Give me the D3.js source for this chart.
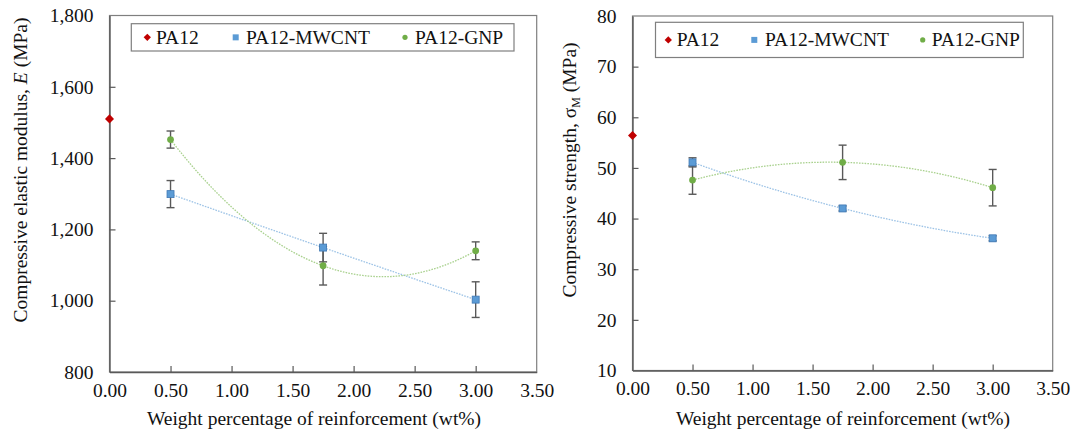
<!DOCTYPE html>
<html>
<head>
<meta charset="utf-8">
<script src="https://cdn.jsdelivr.net/npm/d3@7"></script>
<style>
  html, body { margin: 0; padding: 0; background: #fff; }
  svg { display: block; }
</style>
</head>
<body>
<svg id="chart" width="1071" height="439"></svg>
<script>
// ---- data ----
const seriesNames = ["PA12", "PA12-MWCNT", "PA12-GNP"];
const xTickValues = [0, 0.5, 1, 1.5, 2, 2.5, 3, 3.5];
const modulusTicks = [800, 1000, 1200, 1400, 1600, 1800];
const strengthTicks = [10, 20, 30, 40, 50, 60, 70, 80];

const pa12Loading = [0];
const loadings = [0.5, 1.75, 3.0];

// Compressive elastic modulus, E (MPa)
const modulusPA12 = [1510];
const modulusMWCNT = [1299, 1149, 1003];
const modulusMWCNTErr = [38, 40, 50];
const modulusGNP = [1452, 1098, 1140];
const modulusGNPErr = [24, 54, 25];

// Compressive strength, sigma_M (MPa)
const strengthPA12 = [56.4];
const strengthMWCNT = [51.1, 42.0, 36.1];
const strengthMWCNTErr = [0.9, 0.5, 0.5];
const strengthGNP = [47.6, 51.1, 46.1];
const strengthGNPErr = [2.8, 3.4, 3.6];

// ---- styling ----
const colors = {
  red: "#C00000", blue: "#5B9BD5", blueEdge: "#3F78B4", green: "#70AD47",
  blueTrend: "#9DC3E6", greenTrend: "#A9D18E",
  axis: "#595959", frame: "#7F7F7F", err: "#595959", text: "#111"
};
const FONT = "Liberation Serif";
const FS = 19.5;

const svg = d3.select("#chart").attr("font-family", FONT);

// second-order polynomial through three (x, y) points (Lagrange form)
function quadratic(xs, ys) {
  return x => {
    let s = 0;
    for (let i = 0; i < 3; i++) {
      let t = ys[i];
      for (let j = 0; j < 3; j++) if (j !== i) t *= (x - xs[j]) / (xs[i] - xs[j]);
      s += t;
    }
    return s;
  };
}

function label(sel) {
  return sel.attr("font-family", FONT).attr("font-size", FS).attr("fill", colors.text);
}

function drawPanel(cfg) {
  const { box, yDomain, yTicks, yFormat, pa12, mw, mwErr, gnp, gnpErr, legend } = cfg;
  const x = d3.scaleLinear().domain([0, 3.5]).range([box.left, box.right]);
  const y = d3.scaleLinear().domain(yDomain).range([box.bottom, box.top]);
  const g = svg.append("g");

  // plot frame
  g.append("rect")
    .attr("x", box.left).attr("y", box.top)
    .attr("width", box.right - box.left).attr("height", box.bottom - box.top)
    .attr("fill", "none").attr("stroke", colors.frame).attr("stroke-width", 1.2);

  // axes with inward ticks
  const xAxis = g.append("g").attr("transform", `translate(0,${box.bottom})`)
    .call(d3.axisBottom(x).tickValues(xTickValues).tickFormat(d3.format(".2f"))
      .tickSizeInner(-6).tickSizeOuter(0).tickPadding(14));
  const yAxis = g.append("g").attr("transform", `translate(${box.left},0)`)
    .call(d3.axisLeft(y).tickValues(yTicks).tickFormat(yFormat)
      .tickSizeInner(-6).tickSizeOuter(0).tickPadding(16));
  [xAxis, yAxis].forEach(a => {
    a.attr("font-family", FONT).attr("font-size", FS);
    a.select(".domain").attr("stroke", colors.axis).attr("stroke-width", 1.4);
    a.selectAll(".tick line").attr("stroke", colors.axis).attr("stroke-width", 1.2);
    label(a.selectAll(".tick text"));
  });
  xAxis.selectAll(".tick text").attr("dy", "0.71em").attr("y", 11);
  yAxis.selectAll(".tick text").attr("x", -16);
  // no inner tick marks where the frame already closes the plot
  xAxis.selectAll(".tick").filter(d => d === 0 || d === 3.5).select("line").remove();
  yAxis.selectAll(".tick").filter(d => d === yDomain[0] || d === yDomain[1]).select("line").remove();

  // axis titles
  label(g.append("text"))
    .attr("x", cfg.xTitleX).attr("y", 425)
    .attr("text-anchor", "middle")
    .text("Weight percentage of reinforcement (wt%)");
  const yt = label(g.append("text"))
    .attr("transform", `translate(${cfg.yTitleX},170) rotate(-90)`)
    .attr("text-anchor", "middle");
  cfg.yTitle(yt);

  // trendlines (2nd-order polynomial) from 0.5 to 3.0
  const samples = d3.range(0, 101).map(i => 0.5 + 2.5 * i / 100);
  const line = d3.line().x(d => x(d[0])).y(d => y(d[1]));
  [[mw, colors.blueTrend], [gnp, colors.greenTrend]].forEach(([vals, c]) => {
    const f = quadratic(loadings, vals);
    g.append("path")
      .datum(samples.map(s => [s, f(s)]))
      .attr("d", line).attr("fill", "none")
      .attr("stroke", c).attr("stroke-width", 1.3)
      .attr("stroke-dasharray", "1.6,1.2");
  });

  // error bars
  function errBars(vals, errs) {
    const eg = g.append("g").attr("stroke", colors.err).attr("stroke-width", 1.4);
    loadings.forEach((l, i) => {
      const cx = x(l), y1 = y(vals[i] + errs[i]), y2 = y(vals[i] - errs[i]);
      eg.append("line").attr("x1", cx).attr("x2", cx).attr("y1", y1).attr("y2", y2);
      eg.append("line").attr("x1", cx - 4).attr("x2", cx + 4).attr("y1", y1).attr("y2", y1);
      eg.append("line").attr("x1", cx - 4).attr("x2", cx + 4).attr("y1", y2).attr("y2", y2);
    });
  }
  errBars(gnp, gnpErr);
  errBars(mw, mwErr);

  // markers
  const diamond = d3.symbol().type(d3.symbolDiamond2);
  g.selectAll(null).data(pa12).join("path")
    .attr("transform", (d, i) => `translate(${x(pa12Loading[i])},${y(d)})`)
    .attr("d", diamond.size(52)()).attr("fill", colors.red);
  g.selectAll(null).data(mw).join("rect")
    .attr("x", (d, i) => x(loadings[i]) - 3.5).attr("y", d => y(d) - 3.5)
    .attr("width", 7).attr("height", 7)
    .attr("fill", colors.blue).attr("stroke", colors.blueEdge).attr("stroke-width", 0.8);
  g.selectAll(null).data(gnp).join("circle")
    .attr("cx", (d, i) => x(loadings[i])).attr("cy", d => y(d)).attr("r", 3.4)
    .attr("fill", colors.green);

  // legend
  const lg = g.append("g");
  lg.append("rect")
    .attr("x", legend.x).attr("y", legend.y).attr("width", legend.w).attr("height", legend.h)
    .attr("fill", "#fff").attr("stroke", colors.frame).attr("stroke-width", 1.2);
  const my = legend.y + legend.h / 2;
  lg.append("path").attr("transform", `translate(${legend.x + legend.m[0]},${my})`)
    .attr("d", diamond.size(34)()).attr("fill", colors.red);
  lg.append("rect").attr("x", legend.x + legend.m[1] - 3).attr("y", my - 3)
    .attr("width", 6).attr("height", 6).attr("fill", colors.blue);
  lg.append("circle").attr("cx", legend.x + legend.m[2]).attr("cy", my).attr("r", 2.6)
    .attr("fill", colors.green);
  seriesNames.forEach((n, i) => {
    label(lg.append("text")).attr("x", legend.x + legend.t[i]).attr("y", my + 6.5).text(n);
  });
}

drawPanel({
  box: { left: 109.5, right: 536.7, top: 15.5, bottom: 372 },
  yDomain: [800, 1800], yTicks: modulusTicks, yFormat: d3.format(","),
  pa12: modulusPA12, mw: modulusMWCNT, mwErr: modulusMWCNTErr,
  gnp: modulusGNP, gnpErr: modulusGNPErr,
  xTitleX: 314, yTitleX: 27,
  yTitle: t => {
    t.append("tspan").text("Compressive elastic modulus, ");
    t.append("tspan").attr("font-style", "italic").text("E");
    t.append("tspan").text(" (MPa)");
  },
  legend: { x: 131.3, y: 23.7, w: 382.7, h: 27.3, m: [16, 104.4, 273.7], t: [24.7, 114.7, 283.7] }
});

drawPanel({
  box: { left: 632.5, right: 1052.7, top: 16, bottom: 370.5 },
  yDomain: [10, 80], yTicks: strengthTicks, yFormat: d3.format("d"),
  pa12: strengthPA12, mw: strengthMWCNT, mwErr: strengthMWCNTErr,
  gnp: strengthGNP, gnpErr: strengthGNPErr,
  xTitleX: 843, yTitleX: 576,
  yTitle: t => {
    t.append("tspan").text("Compressive strength, σ");
    t.append("tspan").attr("dy", 4).attr("font-size", 12).text("M");
    t.append("tspan").attr("dy", -4).text(" (MPa)");
  },
  legend: { x: 655.5, y: 22.3, w: 367.8, h: 35.2, m: [12.8, 98.8, 267.2], t: [21.2, 109.5, 276.2] }
});
</script>
</body>
</html>
